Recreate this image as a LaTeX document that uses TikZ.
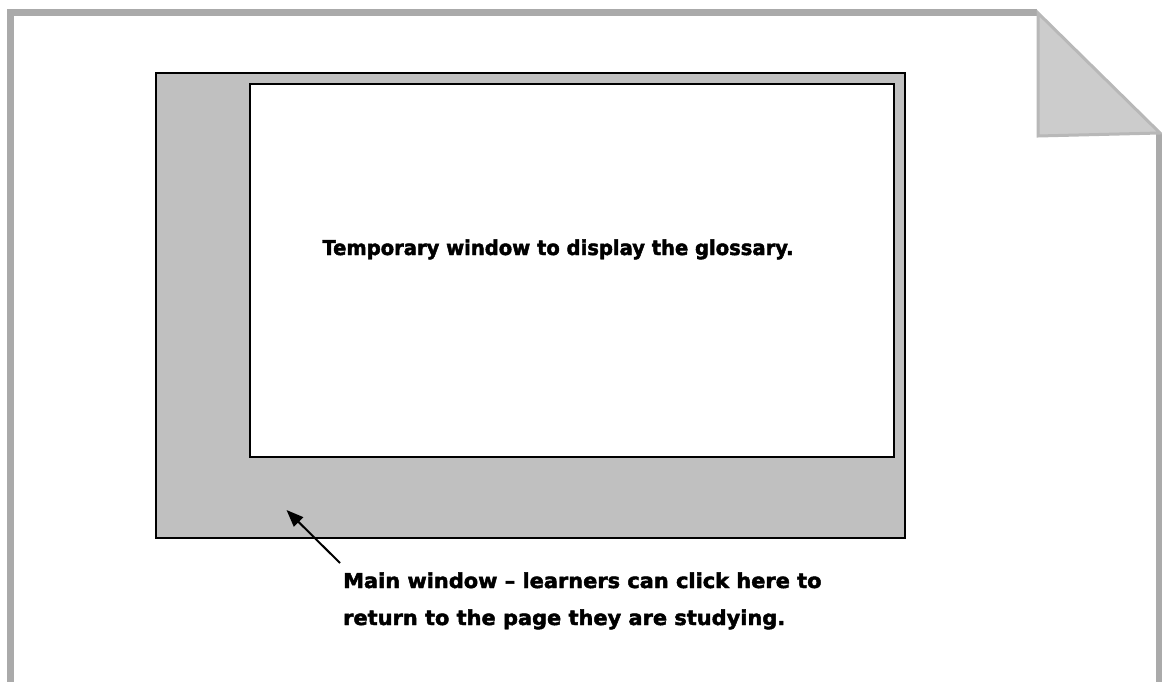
\documentclass[tikz,border=0pt]{standalone}
\usepackage{fontspec}
\setmainfont{DejaVu Sans}[BoldFeatures={FakeBold=2.2,FakeStretch=0.953}]
\newfontfamily\notefont{DejaVu Sans}[Ligatures=TeX,BoldFeatures={FakeBold=2.2,FakeStretch=1.02}]
\usetikzlibrary{arrows.meta}
\definecolor{pagegray}{HTML}{AAAAAA}
\definecolor{foldfill}{HTML}{CCCCCC}
\definecolor{foldedge}{HTML}{B8B8B8}
\definecolor{wingray}{HTML}{C0C0C0}
\begin{document}
\begin{tikzpicture}[x=1pt,y=-1pt,
  pageedge/.style={line width=7pt,draw=pagegray},
  foldshape/.style={fill=foldfill,draw=foldedge,line width=3pt,line join=miter},
  mainwin/.style={draw=black,fill=wingray,line width=2pt,inner sep=0pt,minimum width=749pt,minimum height=464pt},
  tempwin/.style={draw=black,fill=white,line width=1.8pt,inner sep=0pt,minimum width=644pt,minimum height=373pt},
  label/.style={font=\fontsize{20.5}{37}\selectfont\bfseries,inner sep=0pt},
  notelabel/.style={font=\notefont\fontsize{20.5}{37}\selectfont\bfseries,inner sep=0pt},
  pointer/.style={line width=2pt,-{Triangle[length=17pt,width=13pt]}}]
\useasboundingbox (0,0) rectangle (1162,682);
\draw[pageedge] (10.5,682) -- (10.5,12.5) -- (1037,12.5);
\draw[pageedge] (1159.5,133) -- (1159.5,682);
\draw[foldshape] (1038,13) -- (1160,133) -- (1038,136) -- cycle;
\node[mainwin] (main) at (530,305.5) {};
\node[tempwin] (temp) at (572,270.5) {};
\node[label,anchor=base] (templabel) at (558,255) {Temporary window to display the glossary.};
\node[notelabel,anchor=base west,align=left] (note) at (343,625) {Main window – learners can click here to\\return to the page they are studying.};
\coordinate (tail) at (340,563);
\coordinate (tip) at (286.5,510);
\draw[pointer] (tail) -- (tip);
\end{tikzpicture}
\end{document}
